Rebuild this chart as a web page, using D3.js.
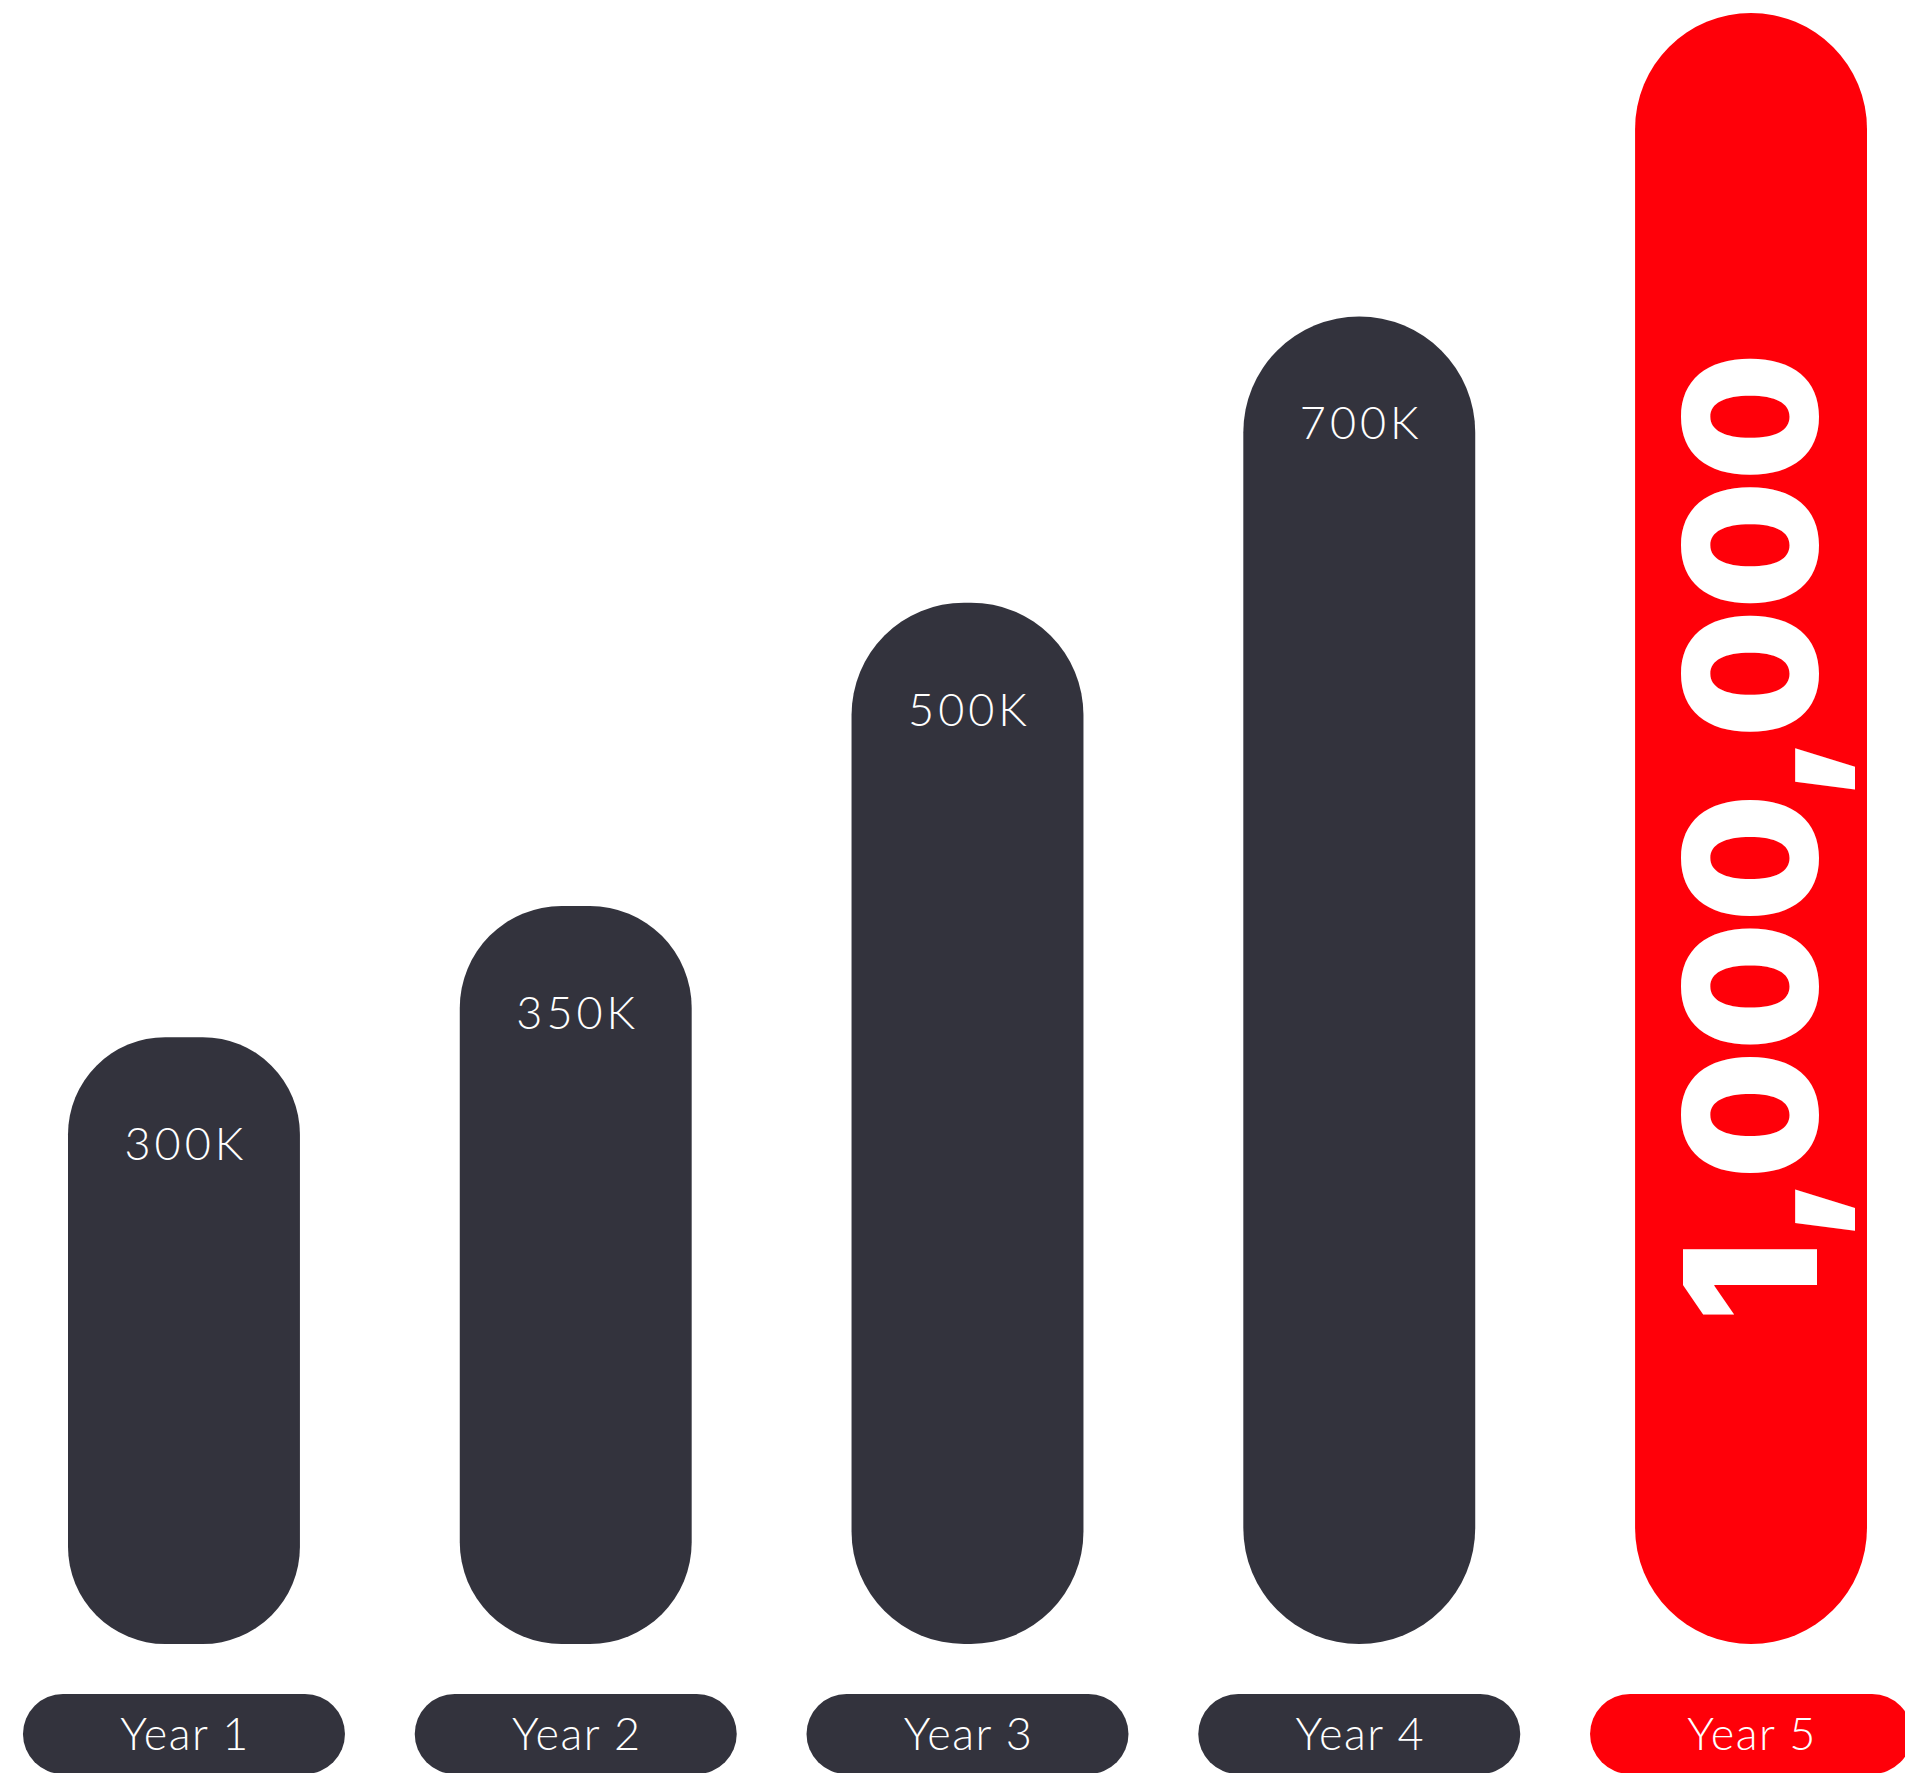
<!DOCTYPE html>
<html lang="en">
<head>
    <meta charset="UTF-8">
    <title>Five Year Growth</title>
    <script src="https://d3js.org/d3.v7.min.js"></script>
</head>
<body>
    <div id="chart"></div>

    <script>
        // Data
        const years = ['Year 1', 'Year 2', 'Year 3', 'Year 4', 'Year 5'];
        const values = [300000, 350000, 500000, 700000, 1000000];
        const valueLabels = ['300K', '350K', '500K', '700K', '1,000,000'];

        // Dimensions
        const width = 1905;
        const height = 1773;
        const barTop = 13;
        const barBottom = 1644;

        const dark = '#33333d';
        const red = '#ff0009';
        const font = "Lato, 'Open Sans', sans-serif";

        const svg = d3.select('#chart')
            .append('svg')
            .attr('width', width)
            .attr('height', height);

        // Scales (infographic bars grow on a log scale)
        const x = d3.scaleBand()
            .domain(years)
            .range([68, 1867])
            .paddingInner(0.408)
            .paddingOuter(0);

        const y = d3.scaleLog()
            .domain([147000, 1000000])
            .range([barBottom, barTop]);

        const data = years.map((year, i) => ({ year, value: values[i], label: valueLabels[i], last: i === years.length - 1 }));
        const bw = x.bandwidth();
        const radius = d => Math.min(bw / 2, 76 + (barBottom - y(d.value)) * 0.035);

        // Bars
        svg.selectAll('.bar')
            .data(data)
            .enter()
            .append('rect')
            .attr('class', 'bar')
            .attr('x', d => x(d.year))
            .attr('y', d => y(d.value))
            .attr('width', bw)
            .attr('height', d => barBottom - y(d.value))
            .attr('rx', radius)
            .attr('ry', radius)
            .attr('fill', d => d.last ? red : dark);

        // Value labels for the regular bars
        svg.selectAll('.value')
            .data(data.filter(d => !d.last))
            .enter()
            .append('text')
            .attr('class', 'value')
            .attr('x', d => x(d.year) + bw / 2 + 2)
            .attr('y', d => y(d.value) + 123)
            .attr('text-anchor', 'middle')
            .attr('fill', '#fff')
            .style('font-family', font)
            .style('font-weight', 300)
            .style('font-size', '45px')
            .style('letter-spacing', '4px')
            .text(d => d.label);

        // Big rotated label on the highlighted bar
        const big = data[data.length - 1];
        svg.append('text')
            .attr('transform', `translate(${x(big.year) + bw / 2 + 66},${(y(big.value) + barBottom) / 2 + 9}) rotate(-90)`)
            .attr('text-anchor', 'middle')
            .attr('fill', '#fff')
            .attr('textLength', 970)
            .attr('lengthAdjust', 'spacingAndGlyphs')
            .style('font-family', "Inter, Lato, sans-serif")
            .style('font-weight', 900)
            .style('font-size', '184px')
            .text(big.label);

        // Year pills
        const pillW = 322;
        const pillH = 80;
        const pillY = 1694;

        const pills = svg.selectAll('.pill')
            .data(data)
            .enter()
            .append('g')
            .attr('class', 'pill')
            .attr('transform', d => `translate(${x(d.year) + bw / 2},${pillY})`);

        pills.append('rect')
            .attr('x', -pillW / 2)
            .attr('width', pillW)
            .attr('height', pillH)
            .attr('rx', pillH / 2)
            .attr('fill', d => d.last ? red : dark);

        pills.append('text')
            .attr('x', 1)
            .attr('y', pillH / 2 + 16)
            .attr('text-anchor', 'middle')
            .attr('fill', '#fff')
            .style('font-family', font)
            .style('font-weight', 300)
            .style('font-size', '45px')
            .style('letter-spacing', '1.5px')
            .text(d => d.year);
    </script>
</body>
<style>
    body {
        margin: 0;
        background: #fff;
    }

    svg {
        display: block;
    }
</style>
</html>
